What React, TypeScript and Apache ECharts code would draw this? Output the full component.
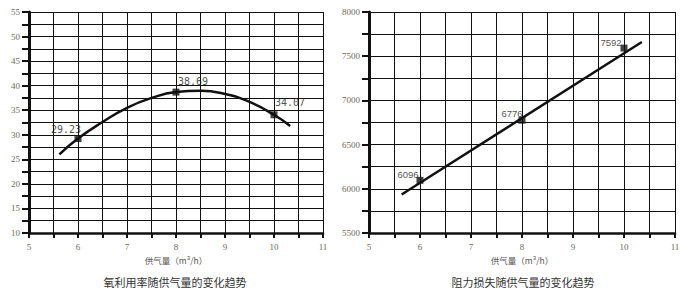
import React, { useEffect, useRef } from "react";
import * as echarts from "echarts";

// Measured points (supply air flow, m³/h)
const flowPoints = [6, 8, 10];
const oxygenUtilization = [29.23, 38.69, 34.07];
const resistanceLoss = [6096, 6776, 7592];

// Fitted trend curve for oxygen utilization
const oxygenTrendX = [5.62, 6, 6.5, 7, 7.5, 8, 8.5, 9, 9.5, 10, 10.33];
const oxygenTrendY = [26.0, 29.23, 32.6, 35.5, 37.5, 38.69, 38.95, 38.3, 36.7, 34.07, 31.8];

// Linear trend line for resistance loss (end points)
const resistanceTrendX = [5.64, 10.35];
const resistanceTrendY = [5935, 7660];

// Label offsets (px) from each marker centre
const oxygenLabelOffsets = [[-12, -9], [17, -11], [16, -12]];
const resistanceLabelOffsets = [[-12, -6], [-10, -7], [-13, -6]];

const titles = ["氧利用率随供气量的变化趋势", "阻力损失随供气量的变化趋势"];
const axisName = "供气量（m³/h）";

const INK = "#111";
const LABEL = "#6b6b5a";

function makeXAxis(gridIndex: number) {
  return {
    type: "value",
    gridIndex,
    min: 5,
    max: 11,
    interval: 1,
    name: axisName,
    nameLocation: "middle",
    nameGap: 23,
    nameTextStyle: { fontSize: 8.5, color: "#555", fontFamily: "Noto Sans CJK SC" },
    axisLine: { show: true, onZero: false, lineStyle: { color: INK, width: 2.5 } },
    axisTick: { show: true, length: 5, lineStyle: { color: INK, width: 2 } },
    minorTick: { show: true, splitNumber: 2, length: 5, lineStyle: { color: INK, width: 2 } },
    axisLabel: { fontSize: 9, color: LABEL, margin: 9, fontFamily: "Liberation Serif" },
    splitLine: { show: true, lineStyle: { color: INK, width: 1 } },
    minorSplitLine: { show: true, lineStyle: { color: INK, width: 1 } },
  };
}

function makeYAxis(gridIndex: number, min: number, max: number, interval: number) {
  return {
    type: "value",
    gridIndex,
    min,
    max,
    interval,
    axisLine: { show: true, onZero: false, lineStyle: { color: INK, width: 3 } },
    axisTick: { show: true, length: 7, lineStyle: { color: INK, width: 2 } },
    minorTick: { show: true, splitNumber: 2, length: 7, lineStyle: { color: INK, width: 2 } },
    axisLabel: {
      fontSize: 9,
      color: LABEL,
      margin: 9,
      fontFamily: "Liberation Serif",
      formatter: (v: number) => String(v),
    },
    splitLine: { show: true, lineStyle: { color: INK, width: 1 } },
    minorSplitLine: { show: true, lineStyle: { color: INK, width: 1 } },
  };
}

export default function App() {
  const ref = useRef<HTMLDivElement>(null);

  useEffect(() => {
    if (!ref.current) return;
    const chart = echarts.init(ref.current, null, { renderer: "svg" });

    const oxygenMarkers = flowPoints.map((x, i) => ({
      value: [x, oxygenUtilization[i]],
      label: { offset: oxygenLabelOffsets[i] },
    }));
    const resistanceMarkers = flowPoints.map((x, i) => ({
      value: [x, resistanceLoss[i]],
      label: { offset: resistanceLabelOffsets[i] },
    }));

    const titleStyle = { fontSize: 11, fontWeight: "normal", color: "#333", fontFamily: "Noto Sans CJK SC" };

    chart.setOption({
      animation: false,
      backgroundColor: "#ffffff",
      title: [
        { text: titles[0], left: 170, top: 271, textAlign: "center", textStyle: titleStyle },
        { text: titles[1], left: 518, top: 271, textAlign: "center", textStyle: titleStyle },
      ],
      grid: [
        { left: 29, top: 12, width: 294, height: 221 },
        { left: 369, top: 12, width: 306, height: 221 },
      ],
      xAxis: [makeXAxis(0), makeXAxis(1)],
      yAxis: [makeYAxis(0, 10, 55, 5), makeYAxis(1, 5500, 8000, 500)],
      series: [
        {
          type: "line",
          xAxisIndex: 0,
          yAxisIndex: 0,
          smooth: 0.5,
          showSymbol: false,
          lineStyle: { color: INK, width: 2.5 },
          data: oxygenTrendX.map((x, i) => [x, oxygenTrendY[i]]),
          z: 3,
        },
        {
          type: "scatter",
          xAxisIndex: 0,
          yAxisIndex: 0,
          symbol: "rect",
          symbolSize: 7,
          itemStyle: { color: INK },
          label: {
            show: true,
            position: "inside",
            color: "#222",
            fontSize: 10,
            fontFamily: "DejaVu Sans Mono",
            formatter: (p: any) => p.value[1].toFixed(2),
          },
          data: oxygenMarkers,
          z: 4,
        },
        {
          type: "line",
          xAxisIndex: 1,
          yAxisIndex: 1,
          showSymbol: false,
          lineStyle: { color: INK, width: 2.5 },
          data: resistanceTrendX.map((x, i) => [x, resistanceTrendY[i]]),
          z: 3,
        },
        {
          type: "scatter",
          xAxisIndex: 1,
          yAxisIndex: 1,
          symbol: "rect",
          symbolSize: 7,
          itemStyle: { color: INK },
          label: {
            show: true,
            position: "inside",
            color: "#222",
            fontSize: 9.5,
            fontFamily: "Liberation Sans",
            formatter: (p: any) => String(p.value[1]),
          },
          data: resistanceMarkers,
          z: 4,
        },
      ],
    });

    return () => chart.dispose();
  }, []);

  return (
    <div
      ref={ref}
      style={{ position: "fixed", left: 0, top: 0, width: 691, height: 292, background: "#fff" }}
    />
  );
}
